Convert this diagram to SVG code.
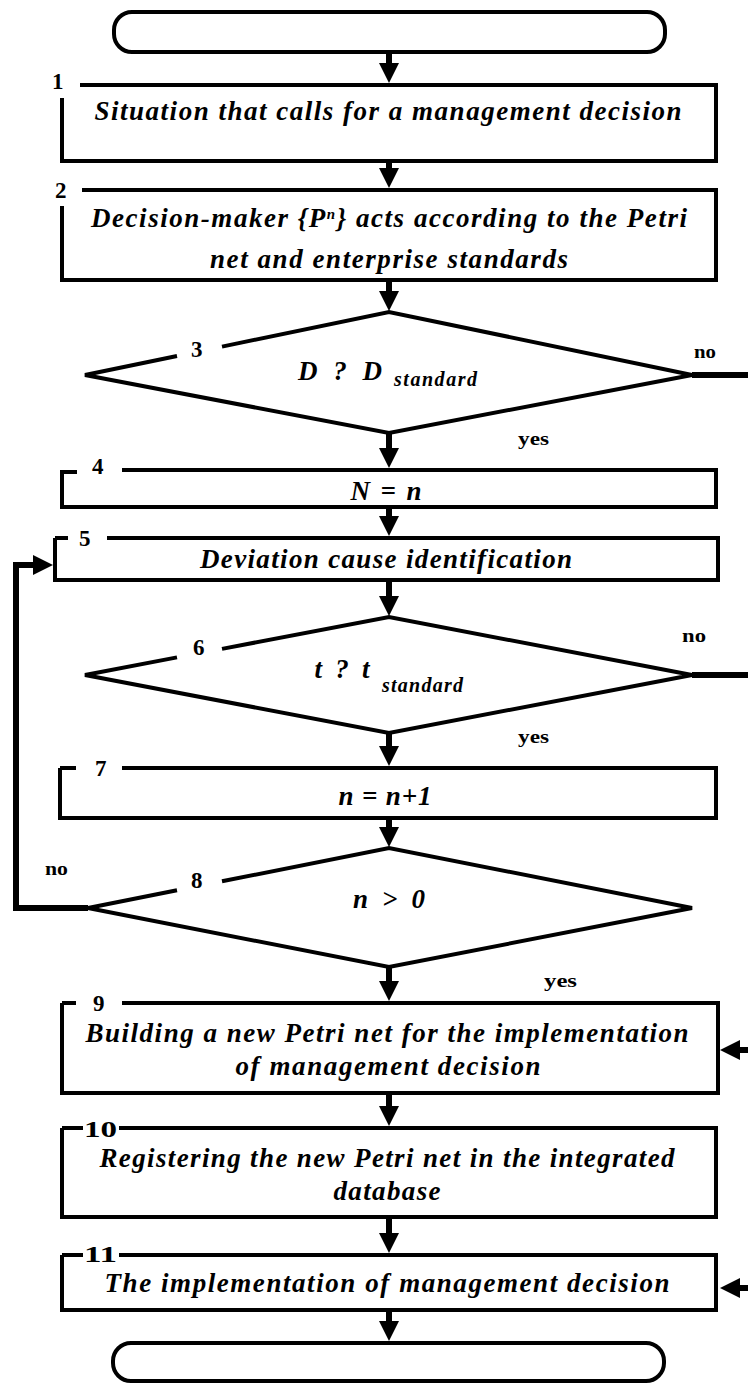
<svg xmlns="http://www.w3.org/2000/svg" width="748" height="1384" viewBox="0 0 748 1384">
  <defs>
    <style>
      .ln { fill: none; stroke: #000; stroke-width: 4; stroke-linejoin: miter; }
      .thick { fill: none; stroke: #000; stroke-width: 6; }
      .shaft { fill: none; stroke: #000; stroke-width: 6; }
      .t { font-family: 'Liberation Serif', 'Times New Roman', serif; font-weight: bold; font-style: italic; font-size: 27px; fill: #000; text-anchor: middle; }
      .sub { font-family: 'Liberation Serif', 'Times New Roman', serif; font-weight: bold; font-style: italic; font-size: 20px; fill: #000; }
      .num { font-family: 'Liberation Serif', 'Times New Roman', serif; font-weight: bold; font-size: 23px; fill: #000; }
      .lbl { font-family: 'Liberation Serif', 'Times New Roman', serif; font-weight: bold; font-size: 19px; fill: #000; }
    </style>
    <marker id="ah" markerUnits="userSpaceOnUse" markerWidth="20" markerHeight="20" refX="10" refY="10" orient="auto">
      <path d="M0,0 L20,10 L0,20 Z" fill="#000"/>
    </marker>
  </defs>
  <rect width="748" height="1384" fill="#fff"/>

  <!-- start terminator -->
  <g id="start">
    <rect x="114" y="12" width="551" height="40" rx="18" ry="18" class="ln"/>
  </g>

  <!-- 1 -->
  <g id="n1">
    <path d="M80,85 H716 V161 H62 V98" class="ln"/>
    <text x="52" y="89" class="num">1</text>
    <text x="388" y="120" class="t" textLength="587" lengthAdjust="spacing">Situation that calls for a management decision</text>
  </g>

  <!-- 2 -->
  <g id="n2">
    <path d="M82,190 H716 V280 H62 V206" class="ln"/>
    <text x="55" y="198" class="num">2</text>
    <text x="389" y="227" class="t" textLength="596" lengthAdjust="spacing">Decision-maker {P<tspan font-size="15" baseline-shift="super">n</tspan>} acts according to the Petri</text>
    <text x="389" y="268" class="t" textLength="358" lengthAdjust="spacing">net and enterprise standards</text>
  </g>

  <!-- 3 -->
  <g id="n3">
    <path d="M177,356 L85,375 L389,433 L692,375 L389,312 L222,346.6" class="ln"/>
    <text x="191" y="357" class="num">3</text>
    <text x="340" y="380" class="t" textLength="84" lengthAdjust="spacing">D ? D</text>
    <text x="394" y="386" class="sub" textLength="83" lengthAdjust="spacing">standard</text>
  </g>

  <!-- 4 -->
  <g id="n4">
    <path d="M62,472 H77 M122,470 H716 V507 H62 V470" class="ln"/>
    <text x="92" y="474" class="num">4</text>
    <text x="386" y="500" class="t" textLength="71" lengthAdjust="spacing">N = n</text>
  </g>

  <!-- 5 -->
  <g id="n5">
    <path d="M55,538 H68 M107,538 H718 V580 H55 V538" class="ln"/>
    <text x="79" y="546" class="num">5</text>
    <text x="386" y="568" class="t" textLength="372" lengthAdjust="spacing">Deviation cause identification</text>
  </g>

  <!-- 6 -->
  <g id="n6">
    <path d="M177,657.4 L85,675 L389,733 L692,675 L389,617 L222,648.9" class="ln"/>
    <text x="193" y="655" class="num">6</text>
    <text x="342" y="678" class="t" textLength="55" lengthAdjust="spacing">t ? t</text>
    <text x="382" y="692" class="sub" textLength="81" lengthAdjust="spacing">standard</text>
  </g>

  <!-- 7 -->
  <g id="n7">
    <path d="M60,768 H76 M122,768 H716 V818 H60 V768" class="ln"/>
    <text x="95" y="776" class="num">7</text>
    <text x="385" y="805" class="t" textLength="93" lengthAdjust="spacing">n = n+1</text>
  </g>

  <!-- 8 -->
  <g id="n8">
    <path d="M177,890.3 L88,908 L389,967 L692,908 L389,848 L222,881.3" class="ln"/>
    <text x="191" y="888" class="num">8</text>
    <text x="389" y="908" class="t" textLength="72" lengthAdjust="spacing">n &gt; 0</text>
  </g>

  <!-- 9 -->
  <g id="n9">
    <path d="M62,1003 H76 M122,1003 H718 V1093 H62 V1003" class="ln"/>
    <text x="93" y="1011" class="num">9</text>
    <text x="387" y="1042" class="t" textLength="603" lengthAdjust="spacing">Building a new Petri net for the implementation</text>
    <text x="388" y="1075" class="t" textLength="305" lengthAdjust="spacing">of management decision</text>
  </g>

  <!-- 10 -->
  <g id="n10">
    <path d="M62,1128 H83 M119,1128 H716 V1217 H62 V1128" class="ln"/>
    <text x="84" y="1137" class="num" textLength="33" lengthAdjust="spacingAndGlyphs">10</text>
    <text x="387" y="1167" class="t" textLength="575" lengthAdjust="spacing">Registering the new Petri net in the integrated</text>
    <text x="387" y="1200" class="t" textLength="107" lengthAdjust="spacing">database</text>
  </g>

  <!-- 11 -->
  <g id="n11">
    <path d="M62,1255 H83 M119,1255 H716 V1310 H62 V1255" class="ln"/>
    <text x="84" y="1262" class="num" textLength="33" lengthAdjust="spacingAndGlyphs">11</text>
    <text x="387" y="1292" class="t" textLength="565" lengthAdjust="spacing">The implementation of management decision</text>
  </g>

  <!-- end terminator -->
  <g id="end">
    <rect x="113" y="1343" width="551" height="38" rx="18" ry="18" class="ln"/>
  </g>

  <!-- connectors -->
  <g id="connectors">
    <line x1="389" y1="52" x2="389" y2="73" class="shaft" marker-end="url(#ah)"/>
    <line x1="389" y1="161" x2="389" y2="178" class="shaft" marker-end="url(#ah)"/>
    <line x1="389" y1="280" x2="389" y2="301" class="shaft" marker-end="url(#ah)"/>
    <line x1="389" y1="433" x2="389" y2="458" class="shaft" marker-end="url(#ah)"/>
    <line x1="389" y1="507" x2="389" y2="526" class="shaft" marker-end="url(#ah)"/>
    <line x1="389" y1="580" x2="389" y2="606" class="shaft" marker-end="url(#ah)"/>
    <line x1="389" y1="733" x2="389" y2="756" class="shaft" marker-end="url(#ah)"/>
    <line x1="389" y1="818" x2="389" y2="837" class="shaft" marker-end="url(#ah)"/>
    <line x1="389" y1="967" x2="389" y2="991" class="shaft" marker-end="url(#ah)"/>
    <line x1="389" y1="1093" x2="389" y2="1116" class="shaft" marker-end="url(#ah)"/>
    <line x1="389" y1="1217" x2="389" y2="1243" class="shaft" marker-end="url(#ah)"/>
    <line x1="389" y1="1310" x2="389" y2="1331" class="shaft" marker-end="url(#ah)"/>

    <!-- exits to the right-hand bus -->
    <line x1="692" y1="375" x2="748" y2="375" class="thick"/>
    <line x1="692" y1="675" x2="748" y2="675" class="thick"/>
    <line x1="748" y1="1050" x2="730" y2="1050" class="thick" marker-end="url(#ah)"/>
    <line x1="748" y1="1288" x2="730" y2="1288" class="thick" marker-end="url(#ah)"/>

    <!-- loop back from 8 to 5 -->
    <polyline points="88,908 16,908 16,565 43,565" class="thick" marker-end="url(#ah)"/>

    <text x="694" y="358" class="lbl" textLength="22" lengthAdjust="spacingAndGlyphs">no</text>
    <text x="518" y="445" class="lbl" textLength="31" lengthAdjust="spacingAndGlyphs">yes</text>
    <text x="682" y="642" class="lbl" textLength="24" lengthAdjust="spacingAndGlyphs">no</text>
    <text x="518" y="743" class="lbl" textLength="31" lengthAdjust="spacingAndGlyphs">yes</text>
    <text x="45" y="875" class="lbl" textLength="23" lengthAdjust="spacingAndGlyphs">no</text>
    <text x="544" y="987" class="lbl" textLength="33" lengthAdjust="spacingAndGlyphs">yes</text>
  </g>
</svg>
